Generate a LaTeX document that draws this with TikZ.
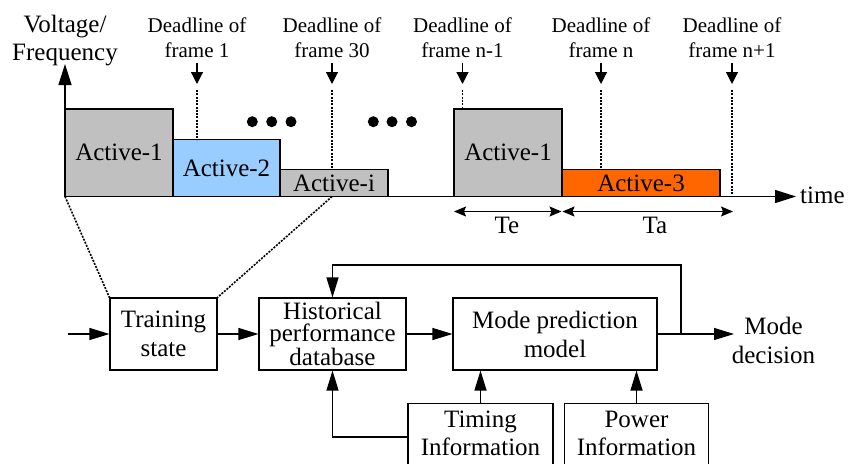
\documentclass[tikz,border=0pt]{standalone}
\usepackage{fontspec}
\setmainfont{Liberation Serif}
\usetikzlibrary{arrows.meta}
\definecolor{grayfill}{RGB}{192,192,192}
\definecolor{bluefill}{RGB}{153,204,255}
\definecolor{orangefill}{RGB}{255,102,0}
\tikzset{
  bar/.style={draw, line width=1.1pt, inner sep=0pt, font=\fontsize{25}{28}\selectfont},
  blk/.style={draw, line width=1.1pt, inner sep=0pt, align=center, font=\fontsize{25}{29}\selectfont},
  txt/.style={inner sep=0pt, align=center, font=\fontsize{25}{28}\selectfont},
  dltxt/.style={inner sep=0pt, align=center, font=\fontsize{21}{25}\selectfont},
  dl/.style={dash pattern=on 2pt off 1.3pt, line width=1.6pt},
  dlarrow/.style={line width=1.2pt, -{Triangle[length=12pt,width=12pt]}},
  axis/.style={line width=1.3pt, -{Triangle[length=21pt,width=13pt]}},
  flow/.style={line width=1.2pt, -{Triangle[length=20pt,width=12pt]}},
  span/.style={line width=1.2pt, {Stealth[length=12pt,width=10pt,inset=2pt]}-{Stealth[length=12pt,width=10pt,inset=2pt]}},
  dot/.style={circle, fill=black, inner sep=0pt, minimum size=11pt},
}
\begin{document}
\begin{tikzpicture}[x=1pt,y=-1pt]
\useasboundingbox (0,0) rectangle (856,463);
% bars
\node[bar, fill=grayfill, minimum width=108pt, minimum height=87.5pt] (a1) at (119,152.75) {Active-1};
\node[bar, fill=bluefill, minimum width=107pt, minimum height=57pt] (a2) at (226.5,168) {Active-2};
\node[bar, fill=grayfill, minimum width=108pt, minimum height=27pt] (ai) at (334,183) {Active-i};
\node[bar, fill=grayfill, minimum width=108pt, minimum height=87.5pt] (a1b) at (508,152.75) {Active-1};
\node[bar, fill=orangefill, minimum width=158pt, minimum height=27pt] (a3) at (641,183) {Active-3};
% axes
\coordinate (o) at (65,196.5);
\coordinate (ytip) at (65,64);
\coordinate (xtip) at (796,196.5);
\coordinate (p30) at (332,196.5);
\draw[axis] (o) -- (ytip);
\draw[axis] (o) -- (xtip);
\node[txt, anchor=base west] (time) at (800,203) {time};
\node[txt] (vf) at (65,41) {Voltage/\\Frequency};
% dots
\node[dot] (d1) at (252.3,121.7) {};
\node[dot] (d2) at (271.7,121.7) {};
\node[dot] (d3) at (291,121.7) {};
\node[dot] (d4) at (373.3,121.7) {};
\node[dot] (d5) at (392,121.7) {};
\node[dot] (d6) at (411.5,121.7) {};
% deadlines
\foreach \nm/\x/\y/\lab in {f1/197/139.5/{frame 1}, f30/332/169.5/{frame 30}, fn1/462.5/109/{frame n-1}, fn/601/169.5/{frame n}, fnp/732/196.5/{frame n+1}}{
  \node[dltxt] (\nm) at (\x,38) {Deadline of\\\lab};
  \coordinate (\nm s) at (\x,63);
  \coordinate (\nm t) at (\x,84);
  \coordinate (\nm a) at (\x,90);
  \coordinate (\nm b) at (\x,\y);
  \draw[dlarrow] (\nm s) -- (\nm t);
  \draw[dl] (\nm a) -- (\nm b);
}
% Te / Ta
\coordinate (te1) at (454,211.5);
\coordinate (te2) at (561.5,211.5);
\coordinate (ta1) at (562.5,211.5);
\coordinate (ta2) at (733,211.5);
\draw[span] (te1) -- (te2);
\draw[span] (ta1) -- (ta2);
\node[txt, anchor=base] (te) at (507,233) {Te};
\node[txt, anchor=base] (ta) at (655,233) {Ta};
% lower blocks
\node[blk, minimum width=107pt, minimum height=72pt] (train) at (163.5,334) {Training\\state};
\node[blk, minimum width=147pt, minimum height=72pt, font=\fontsize{25}{22.5}\selectfont] (hist) at (332.5,334) {Historical\\performance\\database};
\node[blk, minimum width=204pt, minimum height=72pt] (mode) at (555,334) {Mode prediction\\model};
\node[draw, line width=1.1pt, inner sep=0pt, minimum width=145pt, minimum height=67pt, anchor=north] (timbox) at (480.5,403) {};
\node[txt, font=\fontsize{25}{28}\selectfont] (timtxt) at (480.5,433) {Timing\\Information};
\node[draw, line width=1.1pt, inner sep=0pt, minimum width=144pt, minimum height=67pt, anchor=north] (powbox) at (636.5,403) {};
\node[txt, font=\fontsize{25}{28}\selectfont] (powtxt) at (636.5,433) {Power\\Information};
\node[txt, font=\fontsize{25}{29}\selectfont] (dec) at (773.5,340) {Mode\\decision};
% dotted zoom lines
\draw[dl] (o) -- (train.north west);
\draw[dl] (p30) -- (train.north east);
% flow arrows
\coordinate (in) at (68,334);
\coordinate (out) at (734,334);
\coordinate (fb) at (681,334);
\draw[flow] (in) -- (train);
\draw[flow] (train) -- (hist);
\draw[flow] (hist) -- (mode);
\draw[flow] (mode) -- (out);
\draw[flow] (fb) -- (681,265) -| (hist.north);
\draw[flow] (timbox.north) -- (timbox.north |- mode.south);
\draw[flow] (powbox.north) -- (powbox.north |- mode.south);
\draw[flow] (timbox.west) -| (hist.south);
\end{tikzpicture}
\end{document}
